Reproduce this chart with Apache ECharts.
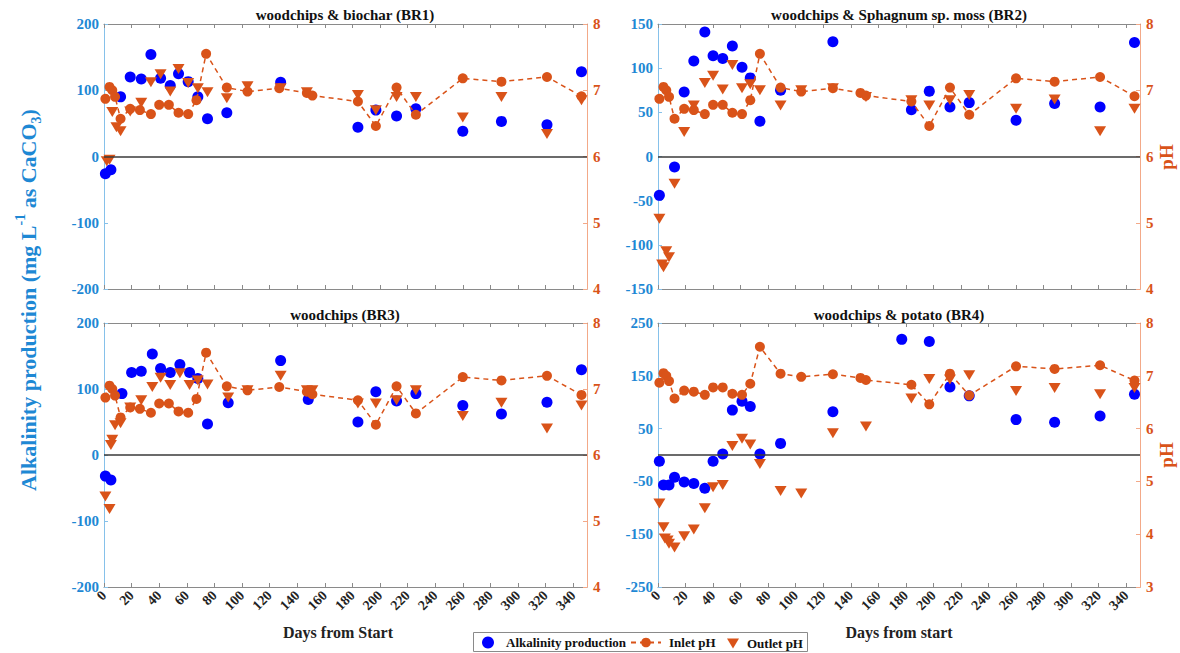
<!DOCTYPE html>
<html>
<head>
<meta charset="utf-8">
<script src="https://cdn.jsdelivr.net/npm/echarts@6/dist/echarts.min.js"></script>
<style>
html,body{margin:0;padding:0;background:#fff;}
#chart{width:1180px;height:653px;}
</style>
</head>
<body>
<div id="chart"></div>
<script>
// ---------------- DATA ----------------
const xTicks = [0,20,40,60,80,100,120,140,160,180,200,220,240,260,280,300,320,340];
const leftTicksBR1 = [-200,-100,0,100,200];
const leftTicksBR2 = [-150,-100,-50,0,50,100,150];
const leftTicksBR3 = [-200,-100,0,100,200];
const leftTicksBR4 = [-250,-150,-50,50,150,250];
const pHTicks = [4,5,6,7,8];
const pHTicksBR4 = [3,4,5,6,7,8];

const panelTitles = ['woodchips & biochar (BR1)','woodchips & Sphagnum sp. moss (BR2)','woodchips (BR3)','woodchips & potato (BR4)'];
const xAxisTitles = ['Days from Start','Days from start'];

// Inlet pH (same influent for all reactors)
const inletDays = [1,4,6,8,12,19,26,34,40,47,54,61,67,74,89,104,127,147,151,184,197,212,226,260,288,321,346];
const inletPH   = [6.87,7.05,7.0,6.9,6.57,6.72,6.70,6.64,6.78,6.78,6.66,6.64,6.85,7.55,7.04,6.98,7.03,6.96,6.92,6.83,6.46,7.04,6.63,7.18,7.13,7.20,6.91];

// BR1
const alkDaysBR1 = [1,5,12,19,27,34,41,48,54,61,68,75,89,128,184,197,212,226,260,288,321,346];
const alkBR1     = [-26,-20,90,120,117,154,118,107,125,113,90,57,66,112,44,70,61,72,38,53,48,128];
const outDaysBR1 = [2,4,6,9,12,19,27,34,41,48,54,61,68,75,89,104,128,147,184,197,212,226,260,288,321,346];
const outBR1     = [5.93,5.95,6.67,6.44,6.38,6.68,6.81,7.12,7.24,6.98,7.32,7.11,7.03,6.97,6.88,7.06,7.03,6.97,6.93,6.70,6.90,6.90,6.59,6.90,6.34,6.85];

// BR2
const alkDaysBR2 = [1,12,19,26,34,40,47,54,61,67,74,89,127,184,197,212,226,260,288,321,346];
const alkBR2     = [-44,-12,73,108,141,114,111,125,101,89,40,75,130,53,74,56,61,41,60,56,129];
const outDaysBR2 = [1,3,4,6,8,12,19,26,34,40,47,54,61,67,74,89,104,127,151,184,197,212,226,260,288,321,346];
const outBR2     = [5.06,4.37,4.33,4.57,4.48,5.59,6.37,6.77,7.11,7.22,7.01,7.38,7.03,7.09,7.0,6.77,7.0,7.03,6.90,6.85,6.77,6.85,6.93,6.72,6.86,6.38,6.72];

// BR3
const alkDaysBR3 = [1,5,13,20,27,35,41,48,55,62,68,75,90,128,148,184,197,212,226,260,288,321,346];
const alkBR3     = [-32,-38,93,125,127,153,131,125,137,125,116,47,79,143,84,50,96,82,93,75,62,80,129];
const outDaysBR3 = [1,4,5,6,8,12,19,27,35,41,48,55,62,68,75,90,104,128,147,151,184,197,212,226,260,288,321,346];
const outBR3     = [5.37,5.18,6.15,6.23,6.45,6.48,6.72,6.83,7.03,7.17,7.06,7.24,7.06,7.13,7.07,6.87,6.98,7.2,6.98,6.98,6.78,6.78,6.83,6.98,6.59,6.79,6.40,6.75];

// BR4
const alkDaysBR4 = [1,4,8,12,19,26,34,40,47,54,61,67,74,89,127,177,197,212,226,260,288,321,346];
const alkBR4     = [-12,-57,-57,-42,-51,-54,-63,-12,2,85,102,92,2,22,82,219,215,129,112,67,62,74,115];
const outDaysBR4 = [1,4,5,7,8,12,19,26,34,40,47,54,61,67,74,89,104,127,151,184,197,212,226,260,288,321,346];
const outBR4     = [4.58,4.13,3.92,3.88,3.82,3.75,3.96,4.09,4.49,4.89,4.93,5.67,5.81,5.70,5.33,4.82,4.77,5.91,6.04,6.57,6.94,6.93,7.01,6.71,6.77,6.65,6.77];

// ---------------- CHART ----------------
const FONT = "Liberation Serif";
const BLUE = '#0000ff';
const ORANGE = '#d95319';
const LBLUE_AX = '#86c1ea';
const LORANGE_AX = '#f3a988';
const LBLUE_TXT = '#1e88d4';
const GRAY = '#8a8a8a';

const zip = (a, b) => a.map((v, i) => [v, b[i]]);

const panels = [
  {alkD: alkDaysBR1, alk: alkBR1, outD: outDaysBR1, out: outBR1, lt: leftTicksBR1, pt: pHTicks},
  {alkD: alkDaysBR2, alk: alkBR2, outD: outDaysBR2, out: outBR2, lt: leftTicksBR2, pt: pHTicks},
  {alkD: alkDaysBR3, alk: alkBR3, outD: outDaysBR3, out: outBR3, lt: leftTicksBR3, pt: pHTicks},
  {alkD: alkDaysBR4, alk: alkBR4, outD: outDaysBR4, out: outBR4, lt: leftTicksBR4, pt: pHTicksBR4}
];

const gridBoxes = [
  {left: 104, top: 24, width: 483, height: 265},
  {left: 658, top: 24, width: 482, height: 265},
  {left: 104, top: 323, width: 483, height: 264},
  {left: 658, top: 323, width: 482, height: 264}
];

const grids = [], xAxes = [], yAxes = [], series = [];
panels.forEach((p, i) => {
  grids.push(Object.assign({show: false, containLabel: false, outerBoundsMode: 'none'}, gridBoxes[i]));
  const showX = i >= 2;
  xAxes.push({
    type: 'value', gridIndex: i, position: 'bottom', min: 0, max: 350,
    axisLine: {show: true, onZero: false, lineStyle: {color: GRAY, width: 1}},
    axisTick: {show: true, inside: true, length: 4, customValues: xTicks, lineStyle: {color: GRAY}},
    axisLabel: {show: showX, customValues: xTicks, rotate: 45, margin: 6, color: '#222',
      fontFamily: FONT, fontWeight: 'bold', fontSize: 14},
    splitLine: {show: false}
  });
  xAxes.push({
    type: 'value', gridIndex: i, position: 'top', min: 0, max: 350,
    axisLine: {show: true, onZero: false, lineStyle: {color: GRAY, width: 1}},
    axisTick: {show: true, inside: true, length: 4, customValues: xTicks, lineStyle: {color: GRAY}},
    axisLabel: {show: false},
    splitLine: {show: false}
  });
  yAxes.push({
    type: 'value', gridIndex: i, position: 'left',
    min: p.lt[0], max: p.lt[p.lt.length - 1],
    axisLine: {show: true, onZero: false, lineStyle: {color: LBLUE_AX, width: 1}},
    axisTick: {show: true, inside: true, length: 4, customValues: p.lt, lineStyle: {color: LBLUE_AX}},
    axisLabel: {show: true, customValues: p.lt, margin: 5, color: LBLUE_TXT,
      fontFamily: FONT, fontWeight: 'bold', fontSize: 15},
    splitLine: {show: false}
  });
  yAxes.push({
    type: 'value', gridIndex: i, position: 'right',
    min: p.pt[0], max: p.pt[p.pt.length - 1],
    axisLine: {show: true, onZero: false, lineStyle: {color: LORANGE_AX, width: 1}},
    axisTick: {show: true, inside: true, length: 4, customValues: p.pt, lineStyle: {color: LORANGE_AX}},
    axisLabel: {show: true, customValues: p.pt, margin: 6, color: ORANGE,
      fontFamily: FONT, fontWeight: 'bold', fontSize: 15},
    splitLine: {show: false}
  });

  series.push({
    name: 'Alkalinity production', type: 'scatter',
    xAxisIndex: 2 * i, yAxisIndex: 2 * i,
    symbol: 'circle', symbolSize: 11,
    itemStyle: {color: BLUE, opacity: 1},
    data: zip(p.alkD, p.alk),
    z: 2,
    markLine: {
      silent: true, symbol: ['none', 'none'], animation: false,
      label: {show: false},
      lineStyle: {color: '#3a3a3a', width: 1.5, type: 'solid'},
      data: [{yAxis: 0}]
    }
  });
  series.push({
    name: 'Inlet pH', type: 'line',
    xAxisIndex: 2 * i, yAxisIndex: 2 * i + 1,
    symbol: 'circle', symbolSize: 10, showSymbol: true,
    itemStyle: {color: ORANGE, opacity: 1},
    lineStyle: {color: ORANGE, width: 1.5, type: [5, 4]},
    data: zip(inletDays, inletPH),
    z: 3
  });
  series.push({
    name: 'Outlet pH', type: 'scatter',
    xAxisIndex: 2 * i, yAxisIndex: 2 * i + 1,
    symbol: 'triangle', symbolRotate: 180, symbolSize: [12, 10],
    itemStyle: {color: ORANGE, opacity: 1},
    data: zip(p.outD, p.out),
    z: 4
  });
});

const graphics = [];
// panel titles
const titlePos = [[345, 15], [899, 15], [345, 315], [899, 315]];
panelTitles.forEach((t, i) => {
  graphics.push({type: 'text', x: titlePos[i][0], y: titlePos[i][1],
    style: {text: t, fill: '#111', fontFamily: FONT, fontWeight: 'bold', fontSize: 15, align: 'center', verticalAlign: 'middle'}});
});
// x axis titles
graphics.push({type: 'text', x: 338, y: 632,
  style: {text: xAxisTitles[0], fill: '#222', fontFamily: FONT, fontWeight: 'bold', fontSize: 16, align: 'center', verticalAlign: 'middle'}});
graphics.push({type: 'text', x: 899, y: 632,
  style: {text: xAxisTitles[1], fill: '#222', fontFamily: FONT, fontWeight: 'bold', fontSize: 16, align: 'center', verticalAlign: 'middle'}});
// left big y label
graphics.push({type: 'text', x: 28, y: 300, rotation: Math.PI / 2,
  style: {
    text: '{a|Alkalinity production (mg L}{sup|-1}{a| as CaCO}{sub|3}{a|)}',
    align: 'center', verticalAlign: 'middle',
    rich: {
      a: {fontFamily: FONT, fontWeight: 'bold', fontSize: 22, fill: LBLUE_TXT, color: LBLUE_TXT, lineHeight: 30, verticalAlign: 'middle'},
      sup: {fontFamily: FONT, fontWeight: 'bold', fontSize: 14, fill: LBLUE_TXT, color: LBLUE_TXT, lineHeight: 14, verticalAlign: 'top'},
      sub: {fontFamily: FONT, fontWeight: 'bold', fontSize: 14, fill: LBLUE_TXT, color: LBLUE_TXT, lineHeight: 14, verticalAlign: 'bottom'}
    }
  }});
// right pH labels
[157, 455].forEach(y => {
  graphics.push({type: 'text', x: 1166, y: y, rotation: Math.PI / 2,
    style: {text: 'pH', fill: ORANGE, fontFamily: FONT, fontWeight: 'bold', fontSize: 19, align: 'center', verticalAlign: 'middle'}});
});
// legend box
graphics.push({type: 'rect', shape: {x: 473.5, y: 632.5, width: 334, height: 19},
  style: {fill: '#fff', stroke: '#8a8a8a', lineWidth: 1}, z: -1});

const legendText = {fontFamily: FONT, fontWeight: 'bold', fontSize: 13, color: '#111', padding: [0, 0, 0, 3]};
const option = {
  animation: false,
  backgroundColor: '#fff',
  grid: grids,
  xAxis: xAxes,
  yAxis: yAxes,
  series: series,
  graphic: graphics,
  legend: [
    {data: ['Alkalinity production'], left: 482, top: 636, padding: 0, itemWidth: 20, itemHeight: 12, textStyle: legendText, selectedMode: false},
    {data: ['Inlet pH'], left: 630, top: 636, padding: 0, itemWidth: 30, itemHeight: 12, textStyle: legendText, selectedMode: false},
    {data: [{name: 'Outlet pH', icon: 'path://M0,0 L12,0 L6,10 Z'}], left: 727, top: 637, padding: 0, itemWidth: 12, itemHeight: 10, textStyle: legendText, selectedMode: false}
  ]
};

const chart = echarts.init(document.getElementById('chart'), null, {renderer: 'svg'});
chart.setOption(option);
</script>
</body>
</html>
